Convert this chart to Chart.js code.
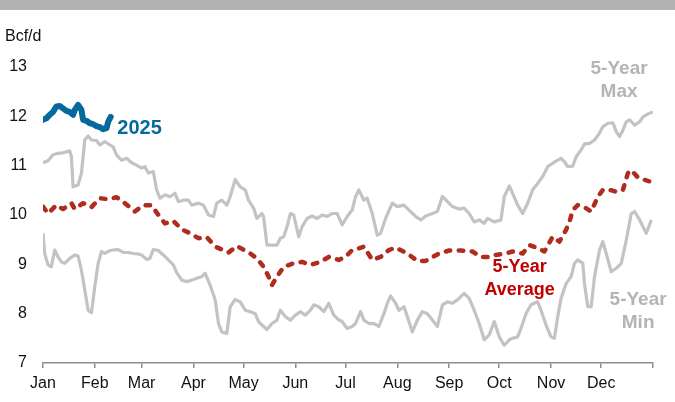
<!DOCTYPE html>
<html>
<head>
<meta charset="utf-8">
<script src="https://cdn.jsdelivr.net/npm/chart.js@4.4.1/dist/chart.umd.min.js"></script>
<style>
  html, body { margin: 0; padding: 0; background: #fff; }
  #wrap { position: relative; width: 675px; height: 402px; }
</style>
</head>
<body>
<div id="wrap"><canvas id="graph" width="675" height="402"></canvas></div>
<script>
const monthLabels = ["Jan", "Feb", "Mar", "Apr", "May", "Jun", "Jul", "Aug", "Sep", "Oct", "Nov", "Dec"];
const monthStartDays = [0, 31, 59, 90, 120, 151, 181, 212, 243, 273, 304, 334, 365];

// day of year / Bcf/d
const days2025 = [0, 2, 4, 6, 8, 10, 12, 14, 16, 18, 19, 21, 23, 24, 26, 28, 30, 32, 34, 36, 38, 39, 40.5];
const values2025 = [11.93, 11.96, 12.03, 12.09, 12.2, 12.21, 12.16, 12.11, 12.09, 12.03, 12.13, 12.23, 12.13, 11.93, 11.91, 11.86, 11.84, 11.8, 11.78, 11.74, 11.76, 11.89, 11.99];

const avgDays = [0, 3, 8, 12, 17, 19, 24, 29, 34, 39, 44, 49, 55, 60, 65, 68, 73, 78, 83, 88, 93, 98, 103, 111, 116, 124, 128, 132, 135, 137, 140, 144, 149, 155, 160, 166, 171, 177, 181, 185, 187, 192, 197, 202, 207, 211, 218, 224, 229, 237, 243, 250, 257, 262, 267, 271, 277, 281, 287, 291, 296, 300, 305, 309, 313, 315, 317, 320, 324, 328, 332, 335, 339, 343, 347, 350, 352, 356, 361, 363];
const avgValues = [10.17, 10.03, 10.2, 10.12, 10.24, 10.12, 10.24, 10.16, 10.34, 10.32, 10.36, 10.24, 10.07, 10.2, 10.2, 10.05, 9.83, 9.88, 9.71, 9.63, 9.53, 9.55, 9.36, 9.24, 9.37, 9.22, 9.12, 8.95, 8.75, 8.58, 8.75, 8.95, 9.01, 9.05, 8.99, 9.05, 9.15, 9.09, 9.15, 9.29, 9.3, 9.36, 9.09, 9.15, 9.29, 9.34, 9.22, 9.07, 9.07, 9.22, 9.28, 9.28, 9.26, 9.15, 9.15, 9.19, 9.22, 9.26, 9.22, 9.39, 9.33, 9.26, 9.56, 9.46, 9.7, 9.86, 10.1, 10.2, 10.16, 10.07, 10.37, 10.51, 10.51, 10.47, 10.51, 10.85, 10.91, 10.76, 10.7, 10.68];

const maxDays = [0, 3, 6, 9, 12, 16, 17, 18, 21, 23, 25, 27, 29, 32, 34, 37, 40, 42, 44, 47, 50, 53, 56, 59, 61, 63, 66, 68, 70, 73, 76, 79, 81, 84, 87, 89, 93, 96, 99, 102, 104, 107, 110, 112, 115, 118, 121, 123, 126, 128, 131, 132, 134, 137, 140, 142, 144, 146, 148, 150, 153, 155, 158, 161, 164, 167, 170, 173, 176, 179, 182, 185, 187, 189, 192, 194, 197, 200, 202, 205, 209, 212, 216, 219, 223, 226, 229, 233, 236, 239, 242, 245, 249, 252, 255, 258, 261, 264, 266, 270, 274, 276, 279, 281, 284, 287, 290, 293, 296, 299, 302, 305, 308, 310, 312, 314, 317, 319, 322, 324, 327, 330, 333, 335, 338, 341, 343, 345, 347, 349, 351, 354, 357, 359, 362, 365];
const maxValues = [11.06, 11.1, 11.22, 11.25, 11.26, 11.3, 11.18, 10.57, 10.61, 10.85, 11.52, 11.6, 11.52, 11.51, 11.42, 11.49, 11.42, 11.38, 11.22, 11.11, 11.15, 11.06, 11.01, 10.95, 10.98, 10.85, 10.88, 10.51, 10.34, 10.41, 10.37, 10.44, 10.27, 10.3, 10.3, 10.2, 10.24, 10.2, 10.0, 9.97, 10.24, 10.3, 10.2, 10.37, 10.72, 10.57, 10.51, 10.3, 10.14, 9.93, 10.03, 9.97, 9.39, 9.39, 9.39, 9.53, 9.56, 9.76, 10.03, 10.0, 9.56, 9.76, 9.93, 9.98, 9.93, 10.0, 9.97, 10.03, 10.03, 9.8, 9.97, 10.1, 10.37, 10.51, 10.3, 10.34, 10.03, 9.59, 9.63, 9.93, 10.24, 10.17, 10.2, 10.1, 9.97, 9.9, 9.98, 10.03, 10.07, 10.38, 10.27, 10.17, 10.12, 10.14, 10.03, 9.86, 9.9, 9.83, 9.93, 9.86, 9.9, 10.37, 10.59, 10.44, 10.2, 10.03, 10.24, 10.51, 10.64, 10.78, 10.98, 11.05, 11.11, 11.15, 11.08, 10.98, 10.99, 11.18, 11.32, 11.44, 11.45, 11.52, 11.66, 11.79, 11.86, 11.87, 11.69, 11.59, 11.72, 11.89, 11.93, 11.82, 11.89, 11.99, 12.05, 12.09];

const minDays = [0, 1, 3, 5, 7, 9, 11, 13, 16, 19, 21, 23, 25, 27, 29, 31, 33, 35, 37, 40, 42, 45, 48, 51, 54, 57, 59, 62, 64, 66, 69, 72, 75, 78, 80, 83, 86, 89, 92, 95, 97, 100, 103, 105, 107, 110, 112, 115, 118, 121, 124, 127, 129, 131, 134, 137, 140, 142, 145, 148, 151, 154, 157, 160, 162, 165, 168, 171, 174, 177, 179, 182, 185, 187, 190, 192, 195, 198, 201, 204, 206, 208, 211, 213, 216, 218, 221, 224, 227, 230, 233, 236, 239, 242, 245, 248, 252, 255, 258, 261, 264, 267, 270, 273, 276, 279, 281, 284, 286, 289, 292, 296, 298, 301, 304, 306, 308, 310, 313, 316, 318, 320, 323, 324, 326, 328, 330, 333, 335, 337, 340, 343, 346, 349, 352, 354, 357, 361, 364];
const minValues = [9.63, 9.22, 8.99, 8.95, 9.29, 9.15, 9.05, 9.02, 9.12, 9.19, 9.17, 8.88, 8.48, 8.07, 8.02, 8.55, 9.02, 9.26, 9.22, 9.28, 9.29, 9.3, 9.24, 9.24, 9.22, 9.21, 9.19, 9.1, 9.12, 9.3, 9.28, 9.19, 9.09, 8.99, 8.83, 8.68, 8.65, 8.68, 8.72, 8.75, 8.82, 8.58, 8.28, 7.8, 7.63, 7.6, 8.14, 8.29, 8.24, 8.07, 8.04, 8.0, 7.84, 7.77, 7.68, 7.8, 7.87, 8.07, 7.94, 7.87, 7.97, 8.04, 7.97, 8.07, 8.18, 8.14, 8.04, 8.21, 7.97, 7.87, 7.84, 7.7, 7.74, 7.8, 8.04, 7.87, 7.8, 7.8, 7.74, 8.0, 8.21, 8.36, 8.21, 8.07, 8.14, 7.94, 7.63, 7.87, 8.04, 8.0, 7.87, 7.74, 8.18, 8.24, 8.21, 8.28, 8.41, 8.31, 8.07, 7.8, 7.47, 7.57, 7.84, 7.53, 7.36, 7.47, 7.5, 7.53, 7.7, 8.0, 8.18, 8.24, 8.07, 7.77, 7.53, 7.5, 7.94, 8.31, 8.61, 8.75, 9.02, 9.09, 9.02, 8.61, 8.14, 8.14, 8.75, 9.29, 9.46, 9.22, 8.85, 8.92, 9.02, 9.49, 10.03, 10.07, 9.9, 9.63, 9.9];

const FONT = "Arial, 'Liberation Sans', sans-serif";
const GRAY = "#c3c3c3";
const BLUE = "#06699c";
const RED = "#b02c1f";

const toPoints = (xs, ys) => xs.map((x, i) => ({ x: x, y: ys[i] }));

// in-chart series labels, anchored in data units
const seriesLabels = [
  { lines: ["2025"], day: 44.5, value: 11.76, color: BLUE, size: 20, align: "left" },
  { lines: ["5-Year", "Average"], day: 285.2, value: 8.94, color: "#c00000", size: 18, align: "center" },
  { lines: ["5-Year", "Max"], day: 344.7, value: 12.97, color: "#b4b4b4", size: 19, align: "center" },
  { lines: ["5-Year", "Min"], day: 356.1, value: 8.28, color: "#b4b4b4", size: 19, align: "center" },
];

const decorPlugin = {
  id: "decor",
  beforeDraw: (chart) => {
    const c = chart.ctx;
    c.save();
    c.fillStyle = "#ffffff";
    c.fillRect(0, 0, chart.width, chart.height);
    c.fillStyle = "#b3b3b3";
    c.fillRect(0, 0, chart.width, 10);
    c.fillStyle = "#111111";
    c.font = "16px " + FONT;
    c.textAlign = "left";
    c.textBaseline = "middle";
    c.fillText("Bcf/d", 5, 37);
    c.restore();
  },
  afterDatasetsDraw: (chart) => {
    const c = chart.ctx;
    const xs = chart.scales.x;
    const ys = chart.scales.y;
    c.save();
    seriesLabels.forEach((lab) => {
      const px = xs.getPixelForValue(lab.day);
      const py = ys.getPixelForValue(lab.value);
      c.fillStyle = lab.color;
      c.font = "bold " + lab.size + "px " + FONT;
      c.textAlign = lab.align;
      c.textBaseline = "middle";
      lab.lines.forEach((t, i) => c.fillText(t, px, py + i * 23));
    });
    c.restore();
  },
};

const ctx = document.getElementById("graph").getContext("2d");
Chart.defaults.font.family = FONT;

new Chart(ctx, {
  type: "line",
  data: {
    datasets: [
      {
        label: "2025",
        data: toPoints(days2025, values2025),
        borderColor: BLUE,
        borderWidth: 6,
        borderCapStyle: "round",
        borderJoinStyle: "round",
      },
      {
        label: "5-Year Average",
        data: toPoints(avgDays, avgValues),
        borderColor: RED,
        borderWidth: 4.5,
        borderDash: [4.5, 8.5],
        borderCapStyle: "round",
        borderJoinStyle: "round",
      },
      {
        label: "5-Year Max",
        data: toPoints(maxDays, maxValues),
        borderColor: GRAY,
        borderWidth: 3.2,
        borderJoinStyle: "round",
      },
      {
        label: "5-Year Min",
        data: toPoints(minDays, minValues),
        borderColor: GRAY,
        borderWidth: 3.2,
        borderJoinStyle: "round",
      },
    ],
  },
  options: {
    responsive: false,
    animation: false,
    devicePixelRatio: 1,
    elements: { point: { radius: 0 }, line: { tension: 0 } },
    layout: { padding: { top: 67, right: 22, left: 0, bottom: 0 } },
    plugins: { legend: { display: false }, tooltip: { enabled: false } },
    scales: {
      x: {
        type: "linear",
        min: 0,
        max: 365,
        afterBuildTicks: (scale) => {
          scale.ticks = monthStartDays.map((d) => ({ value: d }));
        },
        afterFit: (scale) => {
          scale.height = 39;
        },
        ticks: {
          autoSkip: false,
          maxRotation: 0,
          padding: 6,
          color: "#111111",
          font: { size: 16 },
          callback: (value) => monthLabels[monthStartDays.indexOf(value)] || "",
        },
        grid: {
          drawOnChartArea: false,
          drawTicks: true,
          tickLength: 5,
          color: "#8c8c8c",
          lineWidth: 1.5,
        },
        border: { display: true, color: "#8c8c8c", width: 1.5 },
      },
      y: {
        min: 7,
        max: 13,
        afterFit: (scale) => {
          scale.width = 43;
        },
        ticks: {
          stepSize: 1,
          padding: 16,
          color: "#111111",
          font: { size: 16 },
        },
        grid: { display: false, drawTicks: false },
        border: { display: false },
      },
    },
  },
  plugins: [decorPlugin],
});
</script>
</body>
</html>
